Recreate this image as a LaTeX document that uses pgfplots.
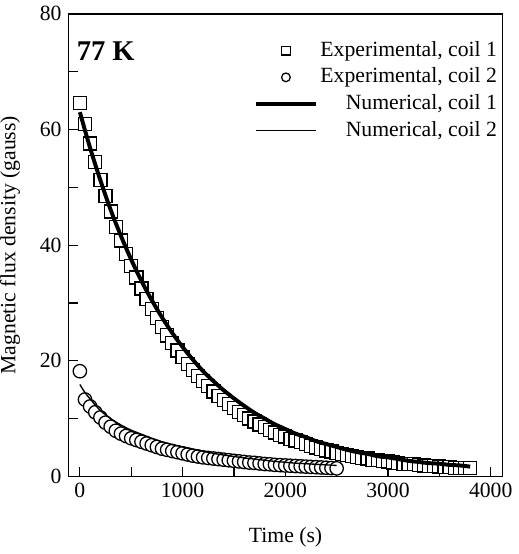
\documentclass[border=0pt]{standalone}
\usepackage{fontspec}
\setmainfont{Liberation Serif}
\usepackage{pgfplots}
\pgfplotsset{compat=1.18}
\pgfplotsset{
  markleg/.style={legend image code/.code={\draw[##1, mark size=2.2pt] plot coordinates {(15pt,0pt)};}},
  lineleg/.style={legend image code/.code={\draw[##1] (0pt,0pt) -- (30pt,0pt);}},
}

% coil 1, measured
\pgfplotstableread{
t B
0 64.6
50 61.0
100 57.6
150 54.4
200 51.3
250 48.5
300 45.8
350 43.2
400 40.8
450 38.5
500 36.4
550 34.4
600 32.5
650 30.7
700 29.0
750 27.4
800 25.8
850 24.4
900 23.1
950 21.8
1000 20.6
1050 19.5
1100 18.4
1150 17.4
1200 16.5
1250 15.6
1300 14.7
1350 13.9
1400 13.2
1450 12.5
1500 11.8
1550 11.2
1600 10.6
1650 10.0
1700 9.5
1750 9.0
1800 8.5
1850 8.0
1900 7.6
1950 7.2
2000 6.9
2050 6.5
2100 6.2
2150 5.9
2200 5.6
2250 5.3
2300 5.0
2350 4.8
2400 4.5
2450 4.3
2500 4.1
2550 3.9
2600 3.7
2650 3.5
2700 3.4
2750 3.2
2800 3.1
2850 2.9
2900 2.8
2950 2.7
3000 2.6
3050 2.4
3100 2.3
3150 2.2
3200 2.2
3250 2.1
3300 2.0
3350 1.9
3400 1.8
3450 1.8
3500 1.7
3550 1.6
3600 1.6
3650 1.5
3700 1.5
3750 1.4
3800 1.4
}\expone

% coil 2, measured
\pgfplotstableread{
t B
0 18.2
50 13.3
100 12.1
150 11.1
200 10.2
250 9.3
300 8.6
350 7.9
400 7.4
450 7.0
500 6.6
550 6.3
600 6.0
650 5.7
700 5.4
750 5.1
800 4.8
850 4.6
900 4.4
950 4.2
1000 4.0
1050 3.8
1100 3.6
1150 3.45
1200 3.3
1250 3.2
1300 3.1
1350 3.0
1400 2.9
1450 2.8
1500 2.7
1550 2.6
1600 2.5
1650 2.4
1700 2.35
1750 2.25
1800 2.15
1850 2.1
1900 2.0
1950 1.95
2000 1.9
2050 1.85
2100 1.8
2150 1.75
2200 1.7
2250 1.65
2300 1.6
2350 1.55
2400 1.5
2450 1.45
2500 1.4
}\exptwo

% coil 1, numerical
\pgfplotstableread{
t B
0 63.0
100 56.8
200 51.2
300 46.1
400 41.6
500 37.5
600 33.8
700 30.5
800 27.5
900 24.8
1000 22.4
1100 20.2
1200 18.2
1300 16.5
1400 14.9
1500 13.5
1600 12.2
1700 11.0
1800 10.0
1900 9.0
2000 8.2
2100 7.4
2200 6.8
2300 6.1
2400 5.6
2500 5.1
2600 4.6
2700 4.2
2800 3.9
2900 3.5
3000 3.3
3100 3.0
3200 2.7
3300 2.5
3400 2.3
3500 2.2
3600 2.0
3700 1.9
3800 1.7
}\numone

% coil 2, numerical
\pgfplotstableread{
t B
0 15.9
50 14.5
100 13.4
200 11.4
300 10.0
400 8.9
500 8.0
600 7.3
700 6.6
800 6.0
900 5.5
1000 5.1
1100 4.7
1200 4.35
1300 4.0
1400 3.7
1500 3.45
1600 3.2
1700 3.0
1800 2.8
1900 2.6
2000 2.45
2100 2.3
2200 2.2
2300 2.1
2400 2.0
2500 1.9
}\numtwo

\begin{document}
\begin{tikzpicture}
\begin{axis}[
    scale only axis,
    width=220pt, height=234.5pt,
    xmin=-110, xmax=4115,
    ymin=0, ymax=80,
    xtick={0,1000,2000,3000,4000},
    ytick={0,20,40,60,80},
    minor x tick num=1,
    minor y tick num=1,
    tick align=inside,
    tick pos=left,
    major tick length=5pt,
    minor tick length=5pt,
    every tick/.style={black, line width=0.6pt},
    axis line style={line width=0.8pt},
    clip marker paths=true,
    font=\fontsize{11}{13}\selectfont,
    /pgf/number format/assume math mode=true,
    /pgf/number format/1000 sep={},
    xlabel={Time (s)},
    ylabel={Magnetic flux density (gauss)},
    xlabel style={at={(axis description cs:0.5,0)}, anchor=center, yshift=-31pt},
    ylabel style={at={(axis description cs:-0.135,0.5)}, anchor=center, inner sep=0pt},
    legend cell align=right,
    legend style={draw=none, fill=none, at={(0.995,0.95)}, anchor=north east,
        inner sep=0pt, row sep=0pt,
        nodes={inner sep=1.5pt, text height=8pt, text depth=2.5pt}},
]
\addplot[only marks, mark=square*, mark size=3.3pt, mark options={fill=white, draw=black, line width=0.65pt}, markleg]
    table[x=t, y=B] {\expone};
\addlegendentry{Experimental, coil 1}
\addplot[only marks, mark=*, mark size=3.4pt, mark options={fill=white, draw=black, line width=0.65pt}, markleg]
    table[x=t, y=B] {\exptwo};
\addlegendentry{Experimental, coil 2}
\addplot[black, line width=2pt, smooth, no marks, lineleg]
    table[x=t, y=B] {\numone};
\addlegendentry{Numerical, coil 1}
\addplot[black, line width=0.7pt, smooth, no marks, lineleg]
    table[x=t, y=B] {\numtwo};
\addlegendentry{Numerical, coil 2}
\node[anchor=west, font=\bfseries\fontsize{14.5}{16}\selectfont, inner sep=0pt]
    at (rel axis cs:0.018,0.92) {77 K};
\end{axis}
\end{tikzpicture}
\end{document}
